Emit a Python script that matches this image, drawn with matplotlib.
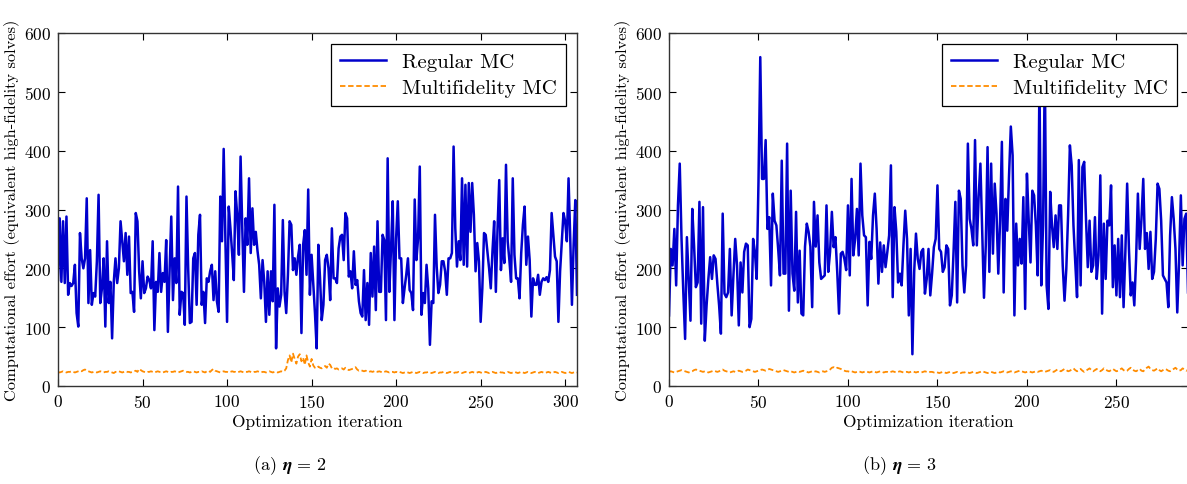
import numpy as np
import matplotlib
matplotlib.use("Agg")
import matplotlib.pyplot as plt

# ---- data ----
# (a) eta = 2, iterations 0..307
regular_a = [
    180, 285, 177, 280, 175, 288, 155, 175, 170, 175, 206,
    124, 101, 260, 217, 200, 217, 319, 141, 231, 138,
    158, 152, 212, 325, 141, 166, 217, 101, 246, 141,
    177, 81, 177, 217, 175, 200, 280, 246, 212, 260,
    189, 254, 158, 160, 126, 294, 280, 195, 149, 212,
    158, 166, 186, 180, 166, 246, 95, 177, 160, 226, 160,
    192, 177, 248, 92, 195, 288, 146, 217, 175, 339,
    121, 160, 158, 104,
    322, 200, 107, 109, 217, 226, 138, 257, 291, 138,
    160, 107, 183, 177, 195, 206, 146, 195, 144, 126,
    322, 246, 403, 251, 109, 305, 268, 226, 180, 331,
    291, 223, 390, 268, 160, 285, 240, 353, 226, 302,
    240, 262, 230, 206, 149, 214, 177, 109, 195, 121, 195,
    144, 308, 64, 166, 135, 155, 282, 160, 124, 189,
    280, 274, 197, 217, 189, 220, 240, 90, 240, 265,
    189, 334, 155, 223, 172, 124,
    64, 240, 183, 112, 138, 214, 223, 200, 146, 268,
    183, 183, 175, 234, 254, 257, 214, 294, 285, 186,
    195, 166, 229, 172, 180, 144, 124, 118, 197, 112,
    175, 104, 226, 152, 237, 129, 280, 160, 160, 257,
    248, 112, 387, 160, 234, 314, 112, 251, 314, 217,
    217, 141, 166, 189, 217, 163, 158, 129, 317, 214,
    251, 373, 121, 158, 141, 206, 166, 70, 144, 141,
    291, 203, 158, 172, 212, 212, 195, 155,
    217, 217, 226, 407, 268, 203, 246, 214, 353, 206,
    342, 203, 345, 262, 345, 291, 195, 243, 212, 109,
    166, 260, 257, 229, 200, 166, 229, 280, 160, 268,
    350, 197, 251, 209, 376, 246, 214, 177, 353, 223,
    183, 183, 149, 226, 274, 305, 206, 254, 214, 118,
    183, 172, 172, 189, 155, 177, 183, 180, 185, 177, 197, 294,
    257, 220, 212, 109, 195, 246, 294, 280, 246, 353,
    251, 138, 240, 316, 155,
]
multi_a = [
    24, 23, 24, 25, 24, 23, 24, 24, 25, 24,
    23, 24, 25, 26, 25, 27, 28, 26, 25, 24,
    23, 24, 24, 23, 24, 25, 24, 23, 24, 24,
    25, 24, 23, 22, 24, 24, 25, 24, 23, 24,
    25, 24, 24, 23, 24, 25, 26, 24, 29, 27,
    25, 24, 23, 24, 24, 25, 24, 23, 24, 25,
    24, 24, 23, 24, 25, 24, 23, 24, 24, 25,
    24, 23, 24, 25, 26, 25, 24, 24, 23, 24,
    25, 24, 23, 24, 24, 25, 24, 23, 25, 26,
    24, 27, 29, 26, 25, 24, 23, 24, 25, 24,
    24, 23, 24, 25, 24, 24, 23, 24, 25, 24,
    23, 24, 24, 25, 24, 23, 24, 24, 25, 24,
    23, 24, 24, 23, 24, 25, 24, 23, 24, 24,
    23, 24, 25, 24, 26, 30, 44, 52, 40, 55,
    46, 38, 50, 54, 42, 48, 36, 52, 40, 33,
    46, 35, 31, 30, 33, 31, 30, 32, 34, 31,
    38, 36, 30, 31, 29, 30, 28, 29, 30, 28,
    31, 29, 27, 28, 29, 30, 32, 28, 26, 27,
    26, 25, 26, 25, 24, 25, 24, 25, 26, 24,
    25, 24, 23, 24, 25, 24, 23, 24, 24, 23,
    24, 23, 24, 23, 22, 23, 24, 23, 22, 23,
    24, 23, 22, 23, 24, 23, 22, 23, 23, 24,
    23, 22, 23, 24, 23, 22, 23, 23, 24, 23,
    22, 23, 24, 23, 22, 23, 23, 24, 23, 22,
    23, 24, 23, 22, 23, 24, 23, 22, 23, 24,
    23, 22, 23, 24, 23, 22, 23, 24, 23, 22,
    23, 24, 23, 23, 22, 23, 24, 23, 22, 23,
    24, 23, 22, 23, 24, 23, 22, 23, 24, 23,
    22, 23, 24, 23, 22, 23, 24, 23, 22, 23,
    24, 23, 22, 23, 24, 23, 22, 23, 24, 23,
    22, 23, 24, 23, 22, 23, 24, 23,
]

# (b) eta = 3, iterations 0..290
regular_b = [
    120, 233, 205, 267, 171, 307, 378, 250, 159, 80,
    253, 182, 111, 301, 239, 168, 176, 313, 106, 304,
    77, 137, 182, 219, 182, 222, 216, 174, 137, 89,
    293, 157, 151, 159, 233, 120, 188, 250, 205, 103,
    210, 159, 228, 242, 239, 100, 114, 250, 228, 182,
    347, 559, 352, 352, 418, 267, 287, 171, 327, 281,
    273, 233, 188, 383, 191, 191, 412, 128, 332, 191,
    162, 296,
    142, 230, 123, 120, 237, 276, 262, 237, 134, 313,
    237, 290, 210, 182, 185, 188, 307, 194, 228, 296,
    236, 253, 194, 123, 225, 228, 216, 197, 307, 188,
    352, 222, 250, 301, 222, 378, 290, 256, 253, 137,
    245, 216, 290, 327, 267, 174, 244, 194, 239, 202,
    228, 256, 375, 151, 304, 262, 176, 191, 171, 239,
    298, 250, 120, 233, 54, 194, 259, 216, 199, 228,
    233, 157, 182,
    233, 154, 191, 236, 250, 341, 233, 228, 194,
    202, 239, 233, 137, 154, 228, 313, 142, 332,
    318, 205, 159, 205, 412, 284, 267, 239, 418, 239,
    321, 378, 267, 150, 239, 406, 194, 378, 225,
    344, 293, 191, 281, 415, 159, 318, 264, 358, 441,
    392, 120, 276, 205, 250, 208, 321, 131, 361, 281,
    210, 332, 324, 273, 188, 520, 171, 273, 540, 171,
    131, 330, 273, 236, 290, 233, 307,
    307, 205, 145, 199, 290, 409, 375, 273,
    210, 151, 384, 171, 372, 381, 284, 202, 281, 194,
    205, 287, 182, 222, 358, 123, 276, 182, 281, 273,
    341, 168, 239, 154, 250, 151, 256, 134, 228, 344,
    233, 154, 176, 137, 216, 327, 233, 284, 352, 233,
    260, 199, 262, 182, 194, 250, 344, 335, 281,
    188, 182, 176, 134, 256, 321, 284, 233, 125,
    210, 324, 205, 284, 293, 159,
]
multi_b = [
    24, 25, 24, 23, 24, 25, 26, 27, 26, 25,
    24, 23, 24, 25, 27, 28, 27, 26, 25, 24,
    25, 24, 23, 24, 25, 26, 25, 24, 25, 27,
    28, 26, 25, 24, 23, 24, 25, 24, 25, 26,
    25, 24, 25, 26, 28, 27, 26, 25, 24, 25,
    26, 27, 28, 27, 26, 27, 29, 28, 27, 26,
    25, 24, 25, 26, 27, 26, 25, 24, 25, 24,
    23, 24, 25, 24, 25, 26, 25, 24, 23, 24,
    25, 24, 25, 24, 23, 24, 25, 24, 25, 26,
    28, 31, 32, 30, 31, 30, 29, 27, 26, 25,
    25, 24, 25, 24, 23, 24, 25, 24, 23, 24,
    25, 24, 23, 24, 25, 24, 23, 24, 25, 24,
    23, 24, 24, 23, 24, 25, 24, 23, 24, 25,
    24, 23, 24, 24, 23, 24, 25, 24, 23, 24,
    24, 23, 24, 25, 24, 23, 24, 24, 23, 24,
    23, 22, 23, 24, 23, 22, 23, 24, 23, 22,
    23, 24, 23, 22, 23, 23, 24, 23, 22, 23,
    24, 23, 22, 23, 24, 25, 24, 23, 22, 23,
    24, 23, 22, 23, 24, 23, 24, 25, 24, 23,
    24, 25, 24, 23, 24, 25, 26, 25, 24, 23,
    24, 25, 24, 23, 24, 25, 24, 25, 26, 25,
    24, 25, 26, 27, 25, 24, 26, 28, 26, 25,
    27, 29, 27, 25, 26, 28, 30, 27, 25, 27,
    29, 26, 24, 26, 28, 30, 27, 25, 27, 29,
    26, 25, 27, 30, 28, 26, 25, 27, 29, 27,
    25, 26, 28, 30, 27, 25, 26, 29, 31, 28,
    26, 25, 27, 29, 26, 25, 28, 31, 33, 29,
    27, 26, 28, 30, 27, 25, 27, 29, 28, 26,
    25, 27, 29, 31, 28, 26, 27, 30, 28, 26,
    27,
]

panels = [
    (regular_a, multi_a, 307, r"(a) $\boldsymbol{\eta}$ = 2"),
    (regular_b, multi_b, 290, r"(b) $\boldsymbol{\eta}$ = 3"),
]

# ---- style (old matplotlib "classic" look) ----
plt.rcParams["font.family"] = "serif"
plt.rcParams["font.serif"] = ["cmr10", "DejaVu Serif"]
plt.rcParams["mathtext.fontset"] = "cm"
plt.rcParams["axes.unicode_minus"] = False
plt.rcParams["axes.formatter.use_mathtext"] = True

fig = plt.figure(figsize=(11.87, 4.85), dpi=100)
lefts = [58 / 1187, 669 / 1187]
caption_x = [290 / 1187, 900 / 1187]

for i, (reg, mf, xmax, cap) in enumerate(panels):
    ax = fig.add_axes([lefts[i], 98 / 485, 519 / 1187, 353 / 485])
    ax.plot(np.arange(len(reg)), reg, color="#0000cc", lw=1.8, label="Regular MC")
    ax.plot(np.arange(len(mf)), mf, color="#ff8c00", lw=1.3, ls="--",
            dashes=(3, 1.5), label="Multifidelity MC")
    ax.set_xlim(0, xmax)
    ax.set_ylim(0, 600)
    ax.set_xticks(np.arange(0, xmax + 1, 50))
    ax.set_yticks(np.arange(0, 601, 100))
    ax.tick_params(direction="in", top=True, right=True, length=5,
                   labelsize=12.5, pad=5)
    for sp in ax.spines.values():
        sp.set_linewidth(1.0)
        sp.set_color("#333333")
    ax.set_xlabel("Optimization iteration", fontsize=12.5, labelpad=3)
    ax.set_ylabel("Computational effort (equivalent high-fidelity solves)",
                  fontsize=11.8, labelpad=3)
    leg = ax.legend(loc="upper right", fontsize=15, fancybox=False,
                    framealpha=1, edgecolor="black", handlelength=2.2,
                    borderaxespad=0.55, borderpad=0.4, labelspacing=0.35)
    leg.get_frame().set_linewidth(0.9)
    fig.text(caption_x[i], 0.04, cap, ha="center", va="center", fontsize=13)

fig.savefig("out.png", dpi=100, facecolor="white")
